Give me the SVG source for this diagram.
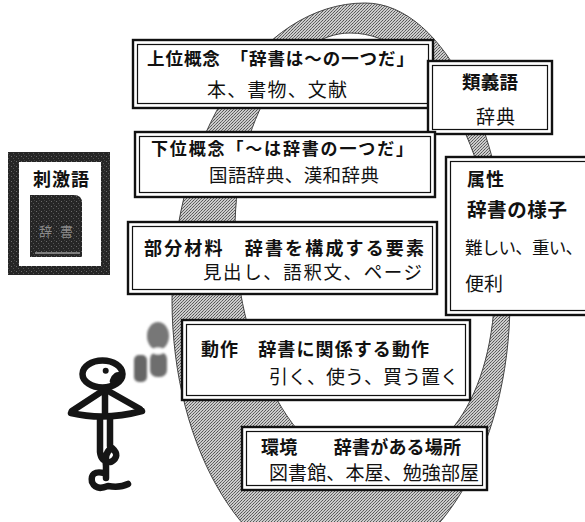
<svg xmlns="http://www.w3.org/2000/svg" width="585" height="522" viewBox="0 0 585 522">
  <style>
    .frame { fill: #fff; stroke: #111; stroke-width: 2.4; }
    .inner { fill: none; stroke: #111; stroke-width: 1.2; }
    .hd { font-family: "Noto Sans CJK JP", "Noto Sans CJK SC", sans-serif; font-weight: 700; fill: #111; }
    .tx { font-family: "Noto Sans CJK JP", "Noto Sans CJK SC", sans-serif; font-weight: 400; fill: #111; }
    .limb { fill: none; stroke: #151515; stroke-width: 6.5; stroke-linecap: round; stroke-linejoin: round; }
  </style>
  <defs>
    <!-- halftone screen for the grey ring -->
    <pattern id="halftone" width="3" height="3" patternUnits="userSpaceOnUse">
      <rect width="3" height="3" fill="#cccccc"/>
      <rect x="0" y="0" width="1" height="1" fill="#5e5e5e"/>
      <rect x="2" y="1" width="1" height="1" fill="#707070"/>
      <rect x="1" y="2" width="1" height="1" fill="#555"/>
    </pattern>
    <!-- coarse grain for the dark frame and the book -->
    <pattern id="grain" width="5" height="5" patternUnits="userSpaceOnUse">
      <rect width="5" height="5" fill="#262626"/>
      <rect x="1" y="1" width="1" height="1" fill="#6a6a6a"/>
      <rect x="3" y="3" width="1" height="1" fill="#555"/>
      <rect x="4" y="0" width="1" height="1" fill="#444"/>
    </pattern>
    <filter id="soft" x="-20%" y="-20%" width="140%" height="140%">
      <feGaussianBlur stdDeviation="0.9"/>
    </filter>
  </defs>

  <rect width="585" height="522" fill="#fff"/>

  <!-- large grey ring behind the boxes -->
  <g id="ring">
    <path fill="url(#halftone)" stroke="#444" stroke-width="1" fill-rule="evenodd"
          d="M172,300 C172,137 259,3 365,3 C445,3 510,137 510,300 C510,451 434,575 340,575 C248,575 172,451 172,300 Z
             M235,230 C235,120 290,33 350,33 C430,33 495,150 495,280 C495,400 440,470 370,470 C290,470 235,340 235,230 Z"/>
  </g>

  <!-- stimulus word with dictionary -->
  <g id="stimulus">
    <rect x="8" y="152" width="102" height="123" fill="url(#grain)"/>
    <rect x="19" y="162" width="82" height="104" fill="#fff"/>
    <text class="hd" x="33" y="186" font-size="18" textLength="56">刺激語</text>
    <path d="M30,195 L74,195 Q82,195 82,203 L82,257 L30,257 Z" fill="url(#grain)"/>
    <line x1="35" y1="253" x2="80" y2="253" stroke="#9a9a9a" stroke-width="1.5"/>
    <text x="39" y="236" font-family="Noto Sans CJK JP, sans-serif" font-size="13" fill="#8a8a8a">辞</text>
    <text x="60" y="236" font-family="Noto Sans CJK JP, sans-serif" font-size="13" fill="#8a8a8a">書</text>
  </g>

  <!-- stick figure -->
  <g id="figure">
    <ellipse class="limb" cx="102.5" cy="374" rx="20" ry="13.5"/>
    <circle cx="105.7" cy="370.7" r="3" fill="#151515"/>
    <path class="limb" stroke-width="3.5" d="M113,381 q3,-8 8,-5"/>
    <path class="limb" d="M105,389 L105,414"/>
    <path class="limb" d="M101,392 L72,411"/>
    <path class="limb" d="M110,392 L140,409"/>
    <path class="limb" d="M71,413 Q105,421 142,411"/>
    <path class="limb" d="M100,418 L100,452 Q101,462 111,462 Q121,456 112,448 Q104,452 106,466 L106,478"/>
    <path class="limb" d="M110,418 L110,446"/>
    <path class="limb" d="M104,473 Q90,470 92,482 Q96,491 108,486 Q120,488 128,484"/>
  </g>

  <!-- exclamation marks beside the head -->
  <g id="marks" filter="url(#soft)">
    <rect x="134" y="355" width="13" height="27" rx="5" fill="#666"/>
    <ellipse cx="158" cy="336" rx="11" ry="14" fill="#777"/>
    <rect x="150" y="352" width="17" height="25" rx="7" fill="#6e6e6e"/>
    <ellipse cx="158" cy="351" rx="6" ry="3.5" fill="#fff"/>
  </g>

  <!-- superordinate concept -->
  <g id="node-superordinate">
    <rect class="frame" x="133" y="40" width="300" height="68"/>
    <rect class="inner" x="137.5" y="44.5" width="291" height="59"/>
    <text class="hd" x="147" y="65" font-size="17.5" textLength="267">上位概念　「辞書は～の一つだ」</text>
    <text class="tx" x="207" y="97" font-size="19" textLength="140">本、書物、文献</text>
  </g>

  <!-- synonym -->
  <g id="node-synonym">
    <rect class="frame" x="428" y="61" width="124" height="73"/>
    <rect class="inner" x="432.5" y="65.5" width="115" height="64"/>
    <text class="hd" x="462" y="88.5" font-size="18.5" textLength="56">類義語</text>
    <text class="tx" x="476" y="123.5" font-size="19" textLength="39">辞典</text>
  </g>

  <!-- subordinate concept -->
  <g id="node-subordinate">
    <rect class="frame" x="135" y="132" width="300" height="65"/>
    <rect class="inner" x="139.5" y="136.5" width="291" height="56"/>
    <text class="hd" x="151" y="155" font-size="17" textLength="262">下位概念「～は辞書の一つだ」</text>
    <text class="tx" x="209" y="182" font-size="18.5" textLength="170">国語辞典、漢和辞典</text>
  </g>

  <!-- attribute -->
  <g id="node-attribute">
    <rect class="frame" x="446" y="157" width="160" height="158"/>
    <rect class="inner" x="450.5" y="161.5" width="151" height="149"/>
    <text class="hd" x="467" y="186" font-size="18" textLength="37">属性</text>
    <text class="hd" x="467" y="217" font-size="19.5" textLength="100">辞書の様子</text>
    <text class="tx" x="465" y="253.5" font-size="17.5" textLength="118">難しい、重い、</text>
    <text class="tx" x="465" y="290.5" font-size="19" textLength="38">便利</text>
  </g>

  <!-- parts and materials -->
  <g id="node-parts">
    <rect class="frame" x="128" y="222" width="309" height="72"/>
    <rect class="inner" x="132.5" y="226.5" width="300" height="63"/>
    <text class="hd" x="144" y="255" font-size="18" textLength="280">部分材料　辞書を構成する要素</text>
    <text class="tx" x="203" y="279" font-size="18.5" textLength="219">見出し、語釈文、ページ</text>
  </g>

  <!-- action -->
  <g id="node-action">
    <rect class="frame" x="182" y="320" width="288" height="80"/>
    <rect class="inner" x="186.5" y="324.5" width="279" height="71"/>
    <text class="hd" x="201" y="356" font-size="18" textLength="228">動作　辞書に関係する動作</text>
    <text class="tx" x="269" y="384" font-size="19" textLength="190">引く、使う、買う置く</text>
  </g>

  <!-- environment -->
  <g id="node-environment">
    <rect class="frame" x="242" y="427" width="245" height="63"/>
    <rect class="inner" x="246.5" y="431.5" width="236" height="54"/>
    <text class="hd" x="261" y="454" font-size="18" textLength="200">環境　　辞書がある場所</text>
    <text class="tx" x="269" y="480" font-size="19" textLength="210">図書館、本屋、勉強部屋</text>
  </g>
</svg>
